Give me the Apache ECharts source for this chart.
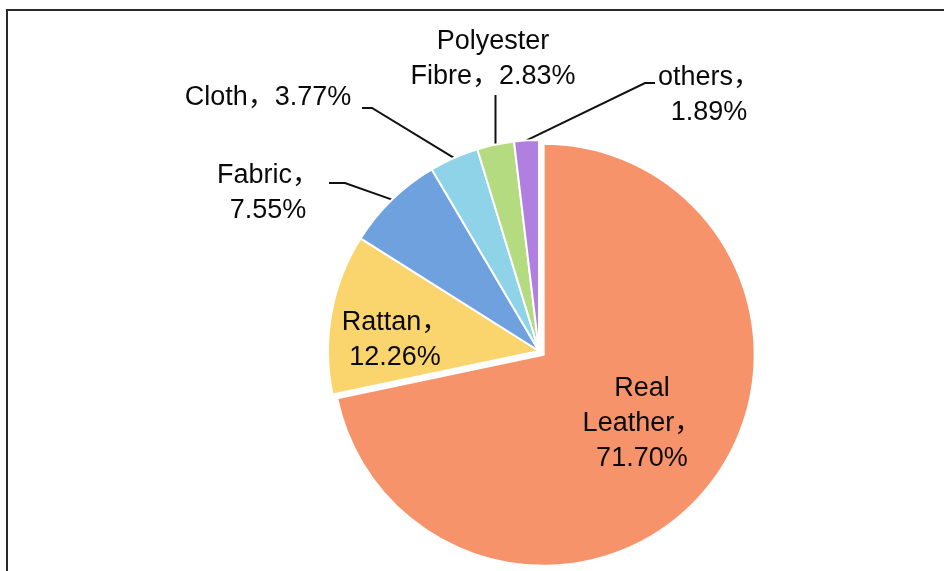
<!DOCTYPE html>
<html>
<head>
<meta charset="utf-8">
<script src="https://cdn.jsdelivr.net/npm/echarts@6/dist/echarts.min.js"></script>
<style>
  html, body { margin: 0; padding: 0; background: #fff; overflow: hidden; }
  #chart { position: absolute; left: 0; top: 0; width: 944px; height: 571px; }
  #frame {
    position: absolute; left: 6px; top: 9px; width: 960px; height: 600px;
    border-left: 2px solid #2a2a2a; border-top: 2px solid #2a2a2a;
    pointer-events: none;
  }
</style>
</head>
<body>
<div id="chart"></div>
<div id="frame"></div>
<script>
// Furniture material shares (%)
const categories = ['Real Leather', 'Rattan', 'Fabric', 'Cloth', 'Polyester Fibre', 'others'];
const shares = [71.70, 12.26, 7.55, 3.77, 2.83, 1.89];
// How each label's name is broken over lines
const labelNames = ['Real\nLeather', 'Rattan', 'Fabric', 'Cloth', 'Polyester\nFibre', 'others'];
const valueOnNewLine = [true, true, true, false, false, true];

const colors = ['#F7936A', '#FAD46C', '#70A1DF', '#8FD3E8', '#B5DB80', '#B07FDF'];

// Label placement: centre of each label block, plus leader-line hook relative to it.
// The pulled-out slice keeps its own inside label, nudged with padding instead.
const labelSpots = [
  null,
  { x: 395, y: 340 },
  { x: 268, y: 193, hook: [[61, -10], [77, -10]] },
  { x: 268, y: 98,  hook: [[94, 10], [104, 10]] },
  { x: 493, y: 59,  vertical: 36 },
  { x: 709, y: 95,  hook: [[-54, -12], [-64, -12]] }
];

const data = categories.map((name, i) => {
  const inside = i < 2;
  const label = { position: inside ? 'inside' : 'outside' };
  if (i === 0) label.padding = [0, 0, 4, 28];
  return {
    name: name,
    value: shares[i],
    selected: i === 0,
    itemStyle: { color: colors[i] },
    label: label,
    labelLine: { show: !inside }
  };
});

const chart = echarts.init(document.getElementById('chart'), null, { renderer: 'canvas' });
chart.setOption({
  animation: false,
  backgroundColor: '#ffffff',
  series: [{
    type: 'pie',
    center: [539, 351],
    radius: 211,
    startAngle: 90,
    clockwise: true,
    selectedMode: 'single',
    selectedOffset: 6,
    avoidLabelOverlap: false,
    itemStyle: { borderColor: '#ffffff', borderWidth: 2 },
    emphasis: { disabled: true },
    label: {
      show: true,
      color: '#0a0a0a',
      fontFamily: '"Liberation Sans", Arial, "Noto Sans CJK SC", sans-serif',
      fontSize: 27,
      lineHeight: 35,
      align: 'center',
      formatter: p => {
        const i = p.dataIndex;
        return labelNames[i] + '，' + (valueOnNewLine[i] ? '\n' : '') + shares[i].toFixed(2) + '%';
      }
    },
    labelLine: {
      show: true,
      length: 10,
      length2: 10,
      smooth: false,
      lineStyle: { color: '#111111', width: 2 }
    },
    labelLayout: params => {
      const s = labelSpots[params.dataIndex];
      if (!s) return {};
      const out = { x: s.x, y: s.y, align: 'center', verticalAlign: 'middle' };
      const pts = params.labelLinePoints;
      if (pts && pts.length) {
        const anchor = pts[0];
        if (s.hook) {
          out.labelLinePoints = [
            [s.x + s.hook[0][0], s.y + s.hook[0][1]],
            [s.x + s.hook[1][0], s.y + s.hook[1][1]],
            anchor
          ];
        } else if (s.vertical) {
          out.labelLinePoints = [
            [anchor[0], s.y + s.vertical],
            [anchor[0], s.y + s.vertical],
            anchor
          ];
        }
      }
      return out;
    },
    data: data
  }]
});
</script>
</body>
</html>
